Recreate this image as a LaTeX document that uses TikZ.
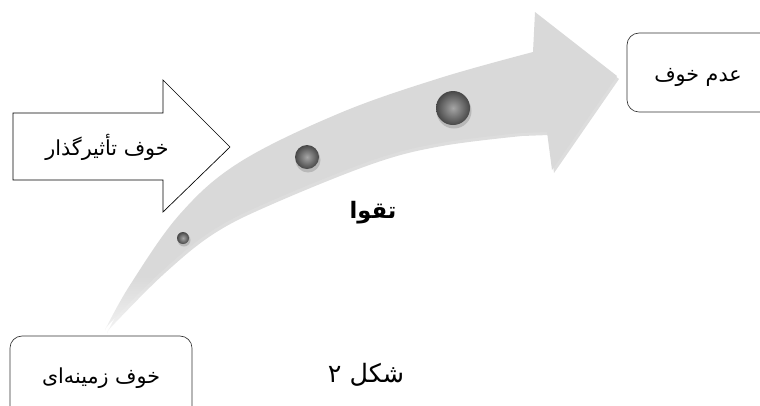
\documentclass[tikz,border=0pt]{standalone}
\usepackage{fontspec}
\usetikzlibrary{fadings}
\TeXXeTstate=1
\newfontfamily\arabicfont[Script=Arabic]{DejaVu Sans}
\begin{document}
\begin{tikzpicture}[x=0.75pt,y=-0.75pt,
  label/.style={font=\arabicfont\fontsize{15.5}{18}\selectfont, inner sep=0pt},
  roundbox/.style={draw=black!80, line width=0.5pt, rounded corners=9pt, fill=white},
  ballstyle/.style={inner color=black!35, outer color=black!72}]
\useasboundingbox (0,0) rectangle (760,405);
\clip (0,0) rectangle (760,405);
% big curved arrow: shadow, then body
\def\arrowpath{plot[smooth,tension=0.6] coordinates {(105,330) (130,285) (180,214) (240,162) (340,113) (440,78) (533,52)}
  -- (535,12) -- (617,76) -- (552,170) -- (547,132)
  -- plot[smooth,tension=0.6] coordinates {(520,133) (440,143) (373,160) (273,200) (213,230) (163,270) (113,320) (105,330)} -- cycle}
\fill[gray!45, opacity=0.6, shift={(2,3)}] \arrowpath;
\fill[gray!30] \arrowpath;
% faded tail
\fill[white, opacity=0.75, path fading=north] (85,275) rectangle (200,340);
% balls
\fill[black, opacity=0.15] (184,240) circle[radius=6.5];
\shade[ballstyle] (183,238) circle[radius=6];
\fill[black, opacity=0.15] (308,160) circle[radius=12.5];
\shade[ballstyle] (307,157) circle[radius=12];
\fill[black, opacity=0.15] (454,111) circle[radius=17.5];
\shade[ballstyle] (453,108) circle[radius=17];
% block arrow
\draw[line width=0.5pt, fill=white] (13,113) -- (163,113) -- (163,80) -- (230,147) -- (163,212) -- (163,180) -- (13,180) -- cycle;
\node[label] (effect) at (107,147) {\beginR خوف تأثیرگذار\endR};
% boxes
\draw[roundbox] (627,33) rectangle (780,112);
\node[label] (nofear) at (698,77) {\beginR عدم خوف\endR};
\draw[roundbox] (10,336) rectangle (192,420);
\node[label] (context) at (101,378) {\beginR خوف زمینه‌ای\endR};
% labels
\node[label, font=\arabicfont\bfseries\fontsize{17}{20}\selectfont] (taqwa) at (373,213) {\beginR تقوا\endR};
\node[label, font=\arabicfont\fontsize{19}{22}\selectfont] (fig) at (366,375) {\beginR شکل ۲\endR};
\end{tikzpicture}
\end{document}
